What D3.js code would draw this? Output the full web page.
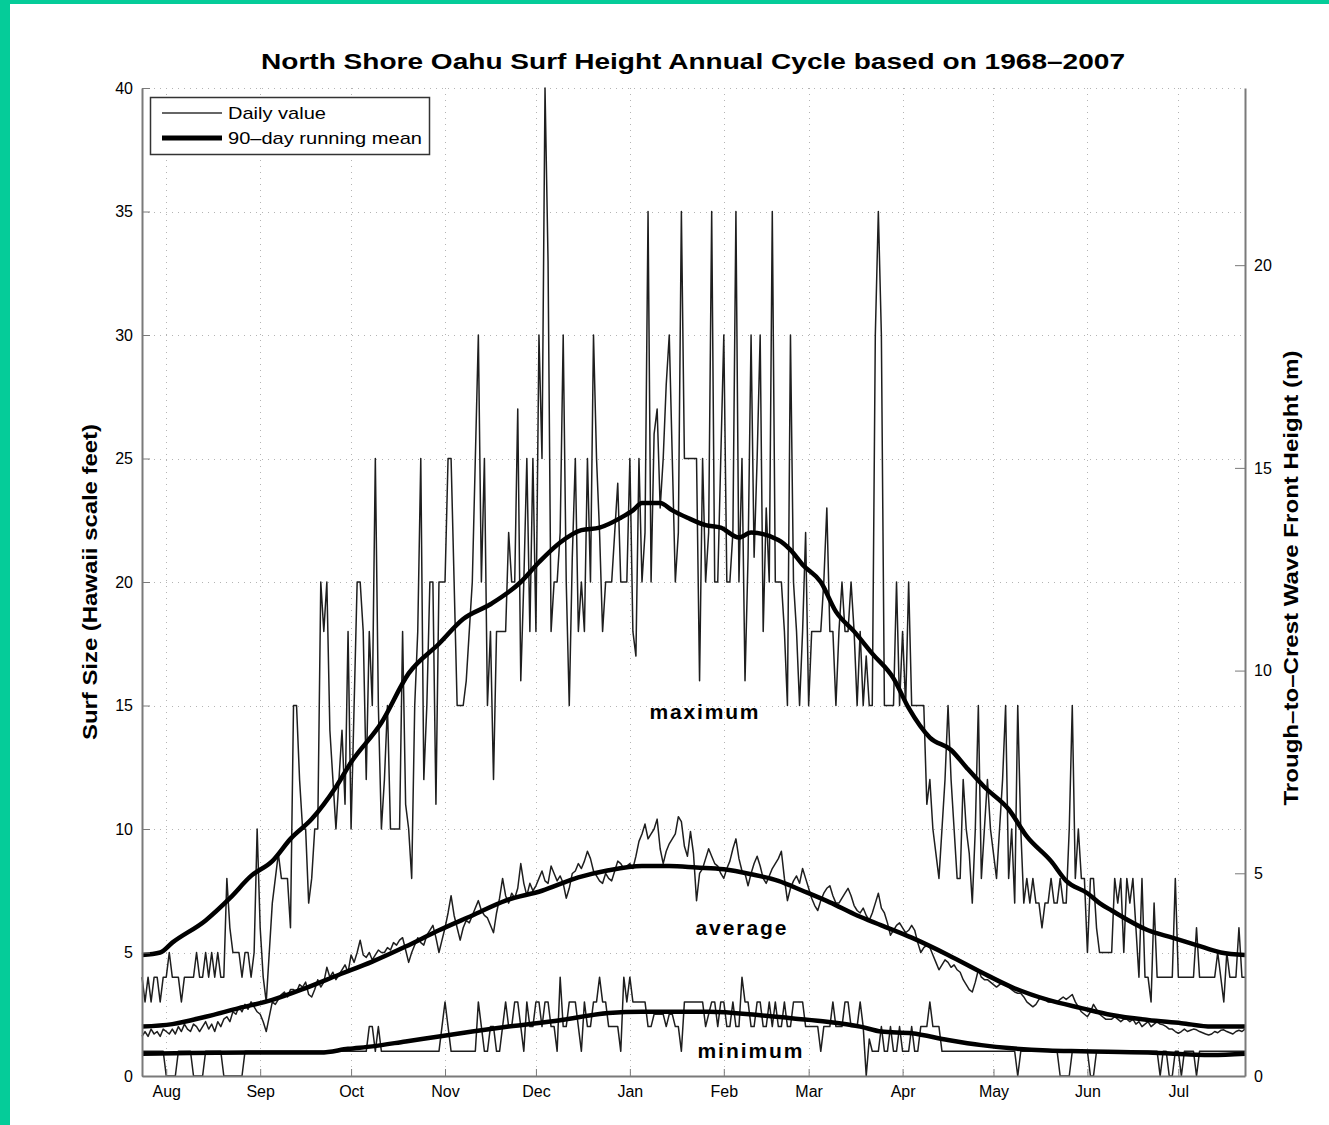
<!DOCTYPE html>
<html>
<head>
<meta charset="utf-8">
<script src="https://cdn.jsdelivr.net/npm/d3@7"></script>
<style>
body { margin: 0; background: #fff; }
svg { display: block; font-family: "Liberation Sans", Arial, Helvetica, sans-serif; }
</style>
</head>
<body>
<script>
// Day 0 of every daily array is 24 Jul, the last one (364) is 23 Jul.
var startDate = new Date(2006, 6, 24);

// Daily maximum surf (Hawaii feet), 10 values per row.
var maxDaily = [
  4,3,4,3,4,4,3,4,4,5,  4,4,4,3,4,4,4,4,5,4,  4,5,4,5,4,5,4,4,8,6,  5,5,5,4,5,5,4,5,10,6,
  4,3,5,7,8,9,8,8,8,6,  15,15,12,10,10,7,8,10,10,20,  18,20,14,12,10,12,14,11,18,10,
  15,20,20,18,12,18,15,25,15,10,  12,15,10,10,10,10,18,11,10,8,  15,18,25,12,15,20,20,11,20,20,
  20,25,25,20,15,15,15,16,18,20,  25,30,20,25,15,18,12,18,18,18,  18,22,20,20,27,16,20,25,18,25,
  18,30,25,40,33,18,20,20,22,30,  20,15,21,25,18,20,18,25,20,30,  25,22,18,20,20,20,22,24,20,20,
  20,25,18,17,25,20,22,35,20,26,  27,23,25,28,30,25,20,22,35,25,  25,25,25,25,16,25,20,22,35,20,
  20,25,30,20,20,22,35,20,25,16,  21,30,21,25,30,18,23,20,35,20,  20,20,18,15,30,20,18,15,18,22,
  15,18,18,18,18,20,23,18,18,15,  18,20,18,18,20,18,15,18,15,17,  15,15,30,35,30,15,15,15,15,20,
  15,18,15,20,15,15,15,15,15,11,  12,10,9,8,10,12,15,12,10,8,  8,12,10,9,7,10,15,8,10,12,
  10,9,8,10,12,15,8,10,7,15,  10,7,8,7,8,7,7,6,7,7,  8,7,7,8,7,7,10,15,8,10,
  8,8,5,8,8,6,5,5,5,5,  5,8,7,8,5,8,7,8,6,4,  8,4,4,3,7,4,4,4,4,4,
  4,8,4,4,4,4,4,4,6,4,  4,4,4,4,4,5,4,3,5,4,  4,4,6,4,4
];

// Daily average surf (Hawaii feet).
var avgDaily = [
  1.6,1.8,1.6,1.9,1.7,1.8,1.6,1.9,1.8,1.7,  1.9,1.7,2.0,1.8,2.1,1.9,1.8,2.1,2.0,1.8,
  2.0,2.2,1.9,2.1,1.8,2.2,2.0,2.3,2.4,2.2,  2.6,2.5,2.8,2.6,2.9,2.7,3.0,2.8,2.6,2.5,
  2.2,1.8,2.4,3.0,2.9,3.1,3.3,3.4,3.2,3.5,  3.5,3.4,3.7,3.6,3.8,3.3,3.2,3.5,3.9,3.6,
  3.8,4.4,4.0,4.2,3.9,4.1,4.3,4.5,4.2,4.9,  4.6,5.0,5.5,4.9,4.8,5.0,4.7,4.9,5.1,5.0,
  5.0,5.2,5.1,5.4,5.3,5.5,5.6,5.1,4.6,5.0,  5.3,5.6,5.4,5.3,5.7,5.9,6.1,5.6,5.0,5.5,
  6.0,6.6,7.3,6.5,6.0,5.5,6.0,6.3,6.2,6.5,  6.8,7.1,6.7,6.5,6.4,6.1,5.8,6.6,7.2,8.0,
  7.3,7.0,7.4,7.2,7.6,8.6,7.8,7.3,7.8,7.5,  7.7,8.0,8.3,7.9,7.8,8.5,8.2,7.9,8.1,7.8,
  7.2,7.6,8.2,8.3,8.6,8.4,8.7,9.1,8.8,8.3,  8.1,7.9,7.8,8.2,8.0,7.9,8.3,8.7,8.6,8.4,
  8.5,8.6,8.4,8.9,9.5,9.8,10.2,9.6,9.8,10.0,  10.4,9.2,8.6,9.1,9.4,9.6,9.8,10.5,10.3,9.3,
  8.9,9.9,9.0,7.1,8.2,8.4,8.8,9.2,8.9,8.6,  8.5,8.2,8.0,8.4,8.7,9.2,9.6,8.8,8.3,8.2,
  7.7,8.2,8.6,8.9,8.5,8.0,7.8,8.1,8.4,8.6,  8.8,9.1,8.0,7.1,7.6,7.9,8.1,7.8,8.4,8.0,
  7.6,7.2,6.9,6.7,7.1,7.4,7.6,7.7,7.3,7.0,  7.0,7.2,7.4,7.6,7.3,6.9,6.7,6.6,6.8,6.5,
  6.3,6.6,7.0,7.4,6.8,6.6,6.2,5.7,5.9,6.1,  6.2,6.0,5.8,5.9,6.1,5.9,5.4,5.0,5.2,5.3,
  5.2,4.9,4.6,4.3,4.5,4.7,4.6,4.4,4.5,4.3,  4.2,3.9,3.7,3.5,3.4,3.8,4.3,4.0,3.9,3.9,
  3.8,3.7,3.6,3.7,3.8,3.75,3.6,3.5,3.4,3.35,  3.35,3.2,3.0,2.9,2.8,2.9,3.1,3.2,3.1,3.0,
  3.0,3.0,3.0,3.1,3.2,3.1,3.2,3.3,3.0,2.8,  2.6,2.5,2.4,2.6,2.9,2.7,2.5,2.4,2.3,2.3,
  2.3,2.4,2.3,2.2,2.3,2.3,2.2,2.3,2.1,2.2,  2.0,2.1,2.2,2.0,2.1,2.2,2.1,2.07,2.0,1.9,
  1.9,1.8,1.73,1.8,1.9,1.8,1.85,1.9,1.87,1.8,
  1.75,1.7,1.66,1.7,1.8,1.75,1.85,1.87,1.8,1.75,1.7,1.8,1.85,1.8,1.9
];

// Daily minimum surf (Hawaii feet).
var minDaily = [
  1,1,1,1,1,1,1,1,0,0,  0,0,1,1,1,1,1,0,0,0,  0,1,1,1,1,1,1,0,0,0,  0,0,0,0,1,1,1,1,1,1,
  1,1,1,1,1,1,1,1,1,1,  1,1,1,1,1,1,1,1,1,1,  1,1,1,1,1,1,1,1,1,1,  1,1,1,1,1,2,2,1,2,1,
  1,1,1,1,1,1,1,1,1,1,  1,1,1,1,1,1,1,1,1,2,  3,2,1,1,1,1,1,1,1,1,  1,3,2,1,1,2,2,1,1,2,
  3,2,2,3,3,2,1,3,2,2,  3,3,2,3,3,2,2,1,4,2,  2,3,3,3,2,1,3,2,2,3,  3,4,3,3,2,2,2,2,1,4,
  3,4,3,3,3,3,3,2,2,2.5,  2.5,2.5,2.5,2,2.5,2.5,2,2,1,3,  3,3,3,3,3,3,2,2.5,3,3,
  2,3,3,2,2,3,2,2,4,3,  3,2,2,3,3,2,2,3,2,3,  2,2,3,2,2,3,3,3,3,2,  2,2,2,2,1,2,2,2,3,2,
  2,2,3,3,2,2,2,3,2,0,  1.5,1,1,1,2,1,1,2,1,1,  2,1,1,1,2,1,1,2,2,2,  3,2,2,2,1,1,1,1,1,1,
  1,1,1,1,1,1,1,1,1,1,  1,1,1,1,1,1,1,1,1,0,  1,1,1,1,1,1,1,1,1,1,  1,1,1,0,0,0,0,1,1,1,
  1,1,1,0,0,1,1,1,1,1,  1,1,1,1,1,1,1,1,1,1,  1,1,1,1,1,1,0,1,1,0,  0,1,1,0,1,1,1,1,0,1,
  1,1,1,1,1,1,1,1,1,1,  1,1,1,1,1
];

// 90-day running means, read at these day numbers.
var maxMeanDays = [0,6,10,21,29,36,43,49,56,64, 69,79,88,98,106,115,125,131,138,145,
  151,158,162,165,171,175,180,186,191,197, 201,210,214,218,224,229,235,241,248,253,
  260,267,272,278,286,292,300,305,312,316, 320,332,340,348,356,364];
var maxMean = [4.9,5.0,5.4,6.3,7.2,8.1,8.7,9.6,10.4,11.7, 12.7,14.3,16.3,17.5,18.5,19.1,20.0,20.8,21.6,22.1,
  22.2,22.6,22.9,23.2,23.2,22.9,22.6,22.3,22.2,21.8, 22.0,21.7,21.3,20.7,20.0,18.8,18.0,17.1,16.1,14.9,
  13.7,13.2,12.5,11.7,10.8,9.7,8.7,7.9,7.4,7.0, 6.7,5.9,5.6,5.3,5.0,4.9];

var avgMeanDays = [0,10,21,32,43,54,65,76,87,98,109,120,132,144,154,165,174,183,192,201,
  210,218,227,236,244,254,266,277,287,299,310,320,332,343,353,364];
var avgMean = [2.0,2.1,2.4,2.75,3.08,3.56,4.1,4.63,5.24,5.9,6.5,7.1,7.5,8.04,8.33,8.5,8.5,8.44,8.37,8.17,
  7.9,7.5,7.03,6.5,6.1,5.6,4.9,4.2,3.6,3.08,2.75,2.47,2.27,2.14,2.0,2.0];

var minMeanDays = [0,35,59,68,76,87,98,109,121,138,154,165,187,204,215,226,237,244,254,266,277,287,299,310,332,353,364];
var minMean = [0.9,0.95,0.95,1.1,1.2,1.4,1.6,1.8,2.0,2.26,2.55,2.6,2.6,2.46,2.33,2.2,2.0,1.8,1.73,1.46,1.25,1.12,1.03,1.0,0.95,0.85,0.9];

var leftTicks = [0,5,10,15,20,25,30,35,40];
var rightTicks = [0,5,10,15,20];
var seriesLabels = ["maximum", "average", "minimum"];
var legendLabels = ["Daily value", "90\u2013day running mean"];

// Layout (plot box edges).
var width = 1329, height = 1125;
var plotLeft = 142, plotRight = 1245, plotTop = 88, plotBottom = 1076;

var svg = d3.select("body").append("svg")
    .attr("width", width)
    .attr("height", height);

svg.append("rect").attr("width", width).attr("height", height).attr("fill", "#fff");
// green frame strips on the left and top edge
svg.append("rect").attr("x", 0).attr("y", 0).attr("width", 10).attr("height", height).attr("fill", "#05cc99");
svg.append("rect").attr("x", 0).attr("y", 0).attr("width", width).attr("height", 4).attr("fill", "#05cc99");

var x = d3.scaleTime()
    .domain([startDate, d3.timeDay.offset(startDate, 364)])
    .range([plotLeft, plotRight]);
var y = d3.scaleLinear().domain([0, 40]).range([plotBottom, plotTop]);
var yR = d3.scaleLinear().domain([0, 24.37]).range([plotBottom, plotTop]); // metres
var dayX = function(i) { return x(d3.timeDay.offset(startDate, i)); };
var monthTicks = x.ticks(d3.timeMonth.every(1));

// Dotted grid.
var grid = svg.append("g")
    .attr("stroke", "#b4b4b4")
    .attr("stroke-width", 1)
    .attr("stroke-dasharray", "1,5");
grid.selectAll(".h").data(leftTicks.filter(function(d) { return d > 0; }))
  .enter().append("line")
    .attr("x1", plotLeft).attr("x2", plotRight)
    .attr("y1", function(d) { return Math.round(y(d)) + 0.5; })
    .attr("y2", function(d) { return Math.round(y(d)) + 0.5; });
grid.selectAll(".v").data(monthTicks)
  .enter().append("line")
    .attr("x1", function(d) { return Math.round(x(d)) + 0.5; })
    .attr("x2", function(d) { return Math.round(x(d)) + 0.5; })
    .attr("y1", plotTop).attr("y2", plotBottom);

// Daily series (thin) and running means (thick).
var dailyLine = d3.line()
    .x(function(d, i) { return dayX(i); })
    .y(function(d) { return y(d); });

[maxDaily, avgDaily, minDaily].forEach(function(s) {
    svg.append("path")
        .datum(s)
        .attr("d", dailyLine)
        .attr("fill", "none")
        .attr("stroke", "#1e1e1e")
        .attr("stroke-width", 1.5)
        .attr("stroke-linejoin", "round");
});

[[maxMeanDays, maxMean], [avgMeanDays, avgMean], [minMeanDays, minMean]].forEach(function(m) {
    var line = d3.line()
        .x(function(d, i) { return dayX(m[0][i]); })
        .y(function(d) { return y(d); })
        .curve(d3.curveMonotoneX);
    svg.append("path")
        .datum(m[1])
        .attr("d", line)
        .attr("fill", "none")
        .attr("stroke", "#000")
        .attr("stroke-width", 4.5)
        .attr("stroke-linejoin", "round");
});

// Axes, matlab style with ticks pointing inside.
function styleAxis(g) {
    g.select(".domain").attr("stroke", "#7a7a7a").attr("stroke-width", 2);
    g.selectAll(".tick line").attr("stroke", "#7a7a7a").attr("stroke-width", 1);
    g.selectAll(".tick text").attr("fill", "#000").style("font-size", "16px");
}

svg.append("g")
    .attr("transform", "translate(" + plotLeft + ",0)")
    .call(d3.axisLeft(y).tickValues(leftTicks).tickSizeInner(-8).tickSizeOuter(0).tickPadding(9))
    .call(styleAxis);

svg.append("g")
    .attr("transform", "translate(" + plotRight + ",0)")
    .call(d3.axisRight(yR).tickValues(rightTicks).tickSizeInner(-10).tickSizeOuter(0).tickPadding(9))
    .call(styleAxis);

svg.append("g")
    .attr("transform", "translate(0," + plotBottom + ")")
    .call(d3.axisBottom(x).ticks(d3.timeMonth.every(1)).tickFormat(d3.timeFormat("%b"))
        .tickSizeInner(-7).tickSizeOuter(0).tickPadding(10))
    .call(styleAxis);

// Title and axis labels.
svg.append("text")
    .attr("x", 693).attr("y", 69)
    .attr("text-anchor", "middle")
    .attr("textLength", 864).attr("lengthAdjust", "spacingAndGlyphs")
    .style("font-size", "22px").style("font-weight", "bold")
    .text("North Shore Oahu Surf Height Annual Cycle based on 1968\u20132007");

svg.append("text")
    .attr("transform", "translate(97,582) rotate(-90)")
    .attr("text-anchor", "middle")
    .attr("textLength", 316).attr("lengthAdjust", "spacingAndGlyphs")
    .style("font-size", "21px").style("font-weight", "bold")
    .text("Surf Size (Hawaii scale feet)");

svg.append("text")
    .attr("transform", "translate(1298,578) rotate(-90)")
    .attr("text-anchor", "middle")
    .attr("textLength", 455).attr("lengthAdjust", "spacingAndGlyphs")
    .style("font-size", "21px").style("font-weight", "bold")
    .text("Trough\u2013to\u2013Crest Wave Front Height (m)");

// Series names inside the plot.
var labelPos = [[704, 719, 109], [741, 935, 91], [750, 1058, 105]];
seriesLabels.forEach(function(t, i) {
    svg.append("text")
        .attr("x", labelPos[i][0]).attr("y", labelPos[i][1])
        .attr("text-anchor", "middle")
        .attr("textLength", labelPos[i][2]).attr("lengthAdjust", "spacing")
        .style("font-size", "21px").style("font-weight", "bold")
        .text(t);
});

// Legend.
var legend = svg.append("g").attr("id", "legend");
legend.append("rect")
    .attr("x", 150.5).attr("y", 97.5).attr("width", 279).attr("height", 57)
    .attr("fill", "#fff").attr("stroke", "#333").attr("stroke-width", 1.5);
legend.append("line").attr("x1", 162).attr("x2", 222).attr("y1", 113).attr("y2", 113)
    .attr("stroke", "#666").attr("stroke-width", 2);
legend.append("line").attr("x1", 162).attr("x2", 222).attr("y1", 138).attr("y2", 138)
    .attr("stroke", "#000").attr("stroke-width", 5);
legend.selectAll(".lt").data(legendLabels).enter().append("text")
    .attr("x", 228).attr("y", function(d, i) { return 119 + i * 25; })
    .attr("textLength", function(d, i) { return i === 0 ? 98 : 194; })
    .attr("lengthAdjust", "spacingAndGlyphs")
    .style("font-size", "17px")
    .text(function(d) { return d; });
</script>
</body>
</html>
